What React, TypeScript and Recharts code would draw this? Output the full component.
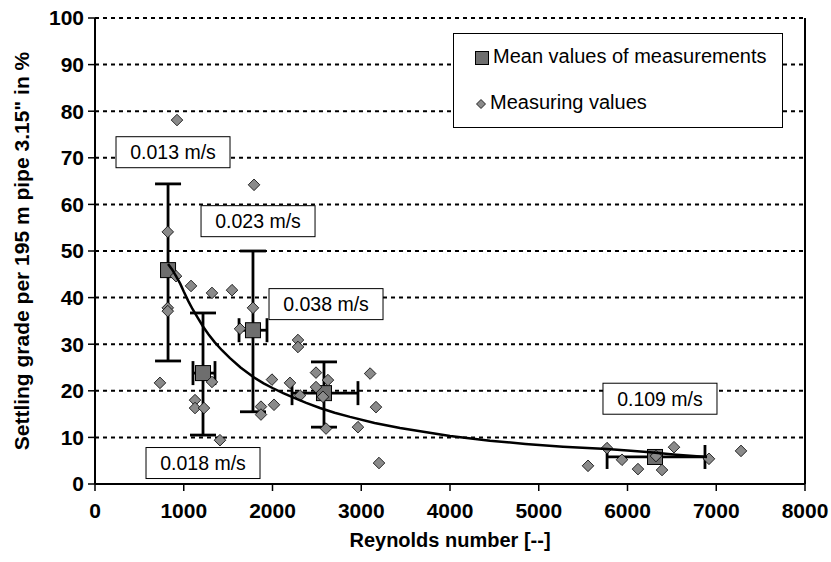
import React from 'react';
import {
  ScatterChart,
  Scatter,
  XAxis,
  YAxis,
  CartesianGrid,
  ErrorBar,
  ReferenceLine,
  Legend,
} from 'recharts';

const FONT = 'Arial, "Liberation Sans", sans-serif';

// mean values with their spread
const meanX = [823, 1217, 1780, 2580, 6310];
const meanY = [45.9, 23.8, 33.0, 19.5, 5.8];
const meanYLow = [26.4, 10.5, 15.5, 12.2, 5.8];
const meanYHigh = [64.4, 36.7, 50.0, 26.2, 5.8];
const meanXLow = [823, 1104, 1623, 2220, 5770];
const meanXHigh = [823, 1352, 1938, 2963, 6873];

// single measurements
const measX = [
  924, 1792, 820, 913, 1082, 1318, 1544, 820, 820, 1780, 1634, 2287, 2287, 732, 1318,
  1127, 1127, 1228, 1408, 1870, 1870, 1994, 2017, 2197, 2310, 2490, 2490, 2625, 2569,
  2603, 3100, 3166, 2963, 3200, 5555, 5769, 5938, 6118, 6321, 6389, 6524, 6918, 7279,
];
const measY = [
  78.1, 64.2, 54.1, 44.6, 42.5, 41.0, 41.6, 37.8, 37.1, 37.8, 33.3, 30.9, 29.4, 21.7, 21.9,
  18.0, 16.3, 16.3, 9.4, 16.6, 14.9, 22.4, 17.0, 21.7, 19.0, 23.9, 20.8, 22.3, 18.7,
  11.9, 23.7, 16.5, 12.2, 4.5, 3.9, 7.7, 5.2, 3.2, 6.0, 3.0, 7.9, 5.4, 7.1,
];

// trend line
const curveX = [823, 870, 913, 960, 1000, 1050, 1100, 1160, 1217, 1280, 1350, 1430, 1521, 1640, 1780, 1900, 2000, 2120, 2231, 2380, 2535, 2700, 2873, 3150, 3437, 3700, 4000, 4450, 4850, 5273, 5769, 6000, 6254, 6550, 6896];
const curveY = [47.2, 46.0, 44.6, 43.0, 41.3, 39.3, 37.5, 35.6, 33.8, 32.1, 30.4, 28.7, 27.0, 25.0, 23.0, 21.6, 20.6, 19.5, 18.6, 17.4, 16.3, 15.3, 14.4, 13.1, 12.0, 11.2, 10.3, 9.3, 8.6, 8.0, 7.5, 7.2, 6.8, 6.3, 5.8];

// velocity annotations
const noteX = [879, 1837, 2603, 1217, 6366];
const noteY = [71.2, 56.4, 38.6, 4.5, 18.3];
const noteText = ['0.013 m/s', '0.023 m/s', '0.038 m/s', '0.018 m/s', '0.109 m/s'];

const xTicks = [0, 1000, 2000, 3000, 4000, 5000, 6000, 7000, 8000];
const yTicks = [0, 10, 20, 30, 40, 50, 60, 70, 80, 90, 100];

const meanData = meanX.map((x, i) => ({
  x,
  y: meanY[i],
  errY: meanYLow[i] === meanYHigh[i] ? null : [meanY[i] - meanYLow[i], meanYHigh[i] - meanY[i]],
  errX: meanXLow[i] === meanXHigh[i] ? null : [x - meanXLow[i], meanXHigh[i] - x],
}));
const measData = measX.map((x, i) => ({ x, y: measY[i] }));
const curveData = curveX.map((x, i) => ({ x, y: curveY[i] }));
const noteData = noteX.map((x, i) => ({ x, y: noteY[i], text: noteText[i] }));

const Square = ({ cx, cy }: any) => (
  <rect x={cx - 7.5} y={cy - 7.5} width={15} height={15} fill="#6e6e6e" stroke="#000" strokeWidth={1} />
);

const Diamond = ({ cx, cy }: any) => (
  <polygon
    points={`${cx},${cy - 5.8} ${cx + 5.8},${cy} ${cx},${cy + 5.8} ${cx - 5.8},${cy}`}
    fill="#8a8a8a"
    stroke="#000"
    strokeWidth={0.8}
  />
);

const Note = ({ cx, cy, payload }: any) => (
  <g>
    <rect x={cx - 57} y={cy - 15.5} width={114} height={31} fill="#fff" stroke="#000" strokeWidth={1} />
    <text x={cx} y={cy + 7} textAnchor="middle" fontSize={19.5} fontFamily={FONT} fill="#000">
      {payload.text}
    </text>
  </g>
);

const Nothing = () => <g />;

function LegendBox() {
  return (
    <div
      style={{
        width: 328,
        height: 93,
        border: '1px solid #000',
        background: '#fff',
        fontFamily: FONT,
        fontSize: 20,
        color: '#000',
        position: 'relative',
      }}
    >
      <div style={{ position: 'absolute', left: 21, top: 17, width: 12, height: 12, background: '#6e6e6e', border: '1px solid #000' }} />
      <div style={{ position: 'absolute', left: 39, top: 11 }}>Mean values of measurements</div>
      <svg style={{ position: 'absolute', left: 21, top: 64 }} width={12} height={12}>
        <polygon points="6,1.5 10.5,6 6,10.5 1.5,6" fill="#8a8a8a" stroke="#000" strokeWidth={0.8} />
      </svg>
      <div style={{ position: 'absolute', left: 36, top: 57 }}>Measuring values</div>
    </div>
  );
}

function YTitle({ viewBox }: any) {
  const cy = viewBox.y + viewBox.height / 2;
  return (
    <text
      x={29}
      y={cy}
      transform={`rotate(-90 29 ${cy})`}
      textAnchor="middle"
      fontWeight="bold"
      fontSize={21}
      fontFamily={FONT}
      fill="#000"
    >
      Settling grade per 195 m pipe 3.15" in %
    </text>
  );
}

function XTitle({ viewBox }: any) {
  const cx = viewBox.x + viewBox.width / 2;
  return (
    <text x={cx} y={547} textAnchor="middle" fontWeight="bold" fontSize={20} fontFamily={FONT} fill="#000">
      Reynolds number [--]
    </text>
  );
}

export default function App() {
  const tickStyle = { fill: '#000', fontSize: 21, fontWeight: 'bold', fontFamily: FONT };
  return (
    <div style={{ position: 'absolute', left: 0, top: 0, width: 831, height: 562, background: '#fff' }}>
      <ScatterChart width={831} height={562} margin={{ top: 18, right: 26, left: 0, bottom: 0 }}>
        <CartesianGrid vertical={false} stroke="#000" strokeDasharray="4 4" strokeWidth={2} />
        <XAxis
          type="number"
          dataKey="x"
          domain={[0, 8000]}
          ticks={xTicks}
          height={78}
          tick={tickStyle}
          tickSize={7}
          tickMargin={12}
          axisLine={{ stroke: '#000', strokeWidth: 2 }}
          tickLine={{ stroke: '#000', strokeWidth: 1.5 }}
          label={<XTitle />}
        />
        <YAxis
          type="number"
          dataKey="y"
          domain={[0, 100]}
          ticks={yTicks}
          width={95}
          tick={tickStyle}
          tickSize={7}
          tickMargin={4}
          axisLine={{ stroke: '#000', strokeWidth: 2 }}
          tickLine={{ stroke: '#000', strokeWidth: 1.5 }}
          label={<YTitle />}
        />
        <ReferenceLine x={8000} stroke="#000" strokeWidth={2} />
        <Scatter data={meanData} shape={Square} isAnimationActive={false}>
          <ErrorBar dataKey="errY" direction="y" width={13} stroke="#000" strokeWidth={2.8} />
          <ErrorBar dataKey="errX" direction="x" width={12} stroke="#000" strokeWidth={2.8} />
        </Scatter>
        <Scatter data={measData} shape={Diamond} isAnimationActive={false} />
        <Scatter
          data={curveData}
          shape={Nothing}
          line={{ stroke: '#000', strokeWidth: 2.5 }}
          isAnimationActive={false}
        />
        <Scatter data={noteData} shape={Note} isAnimationActive={false} />
        <Legend
          layout="vertical"
          align="center"
          verticalAlign="middle"
          content={<LegendBox />}
          wrapperStyle={{ position: 'absolute', top: 33, left: 453, width: 330 }}
        />
      </ScatterChart>
    </div>
  );
}
